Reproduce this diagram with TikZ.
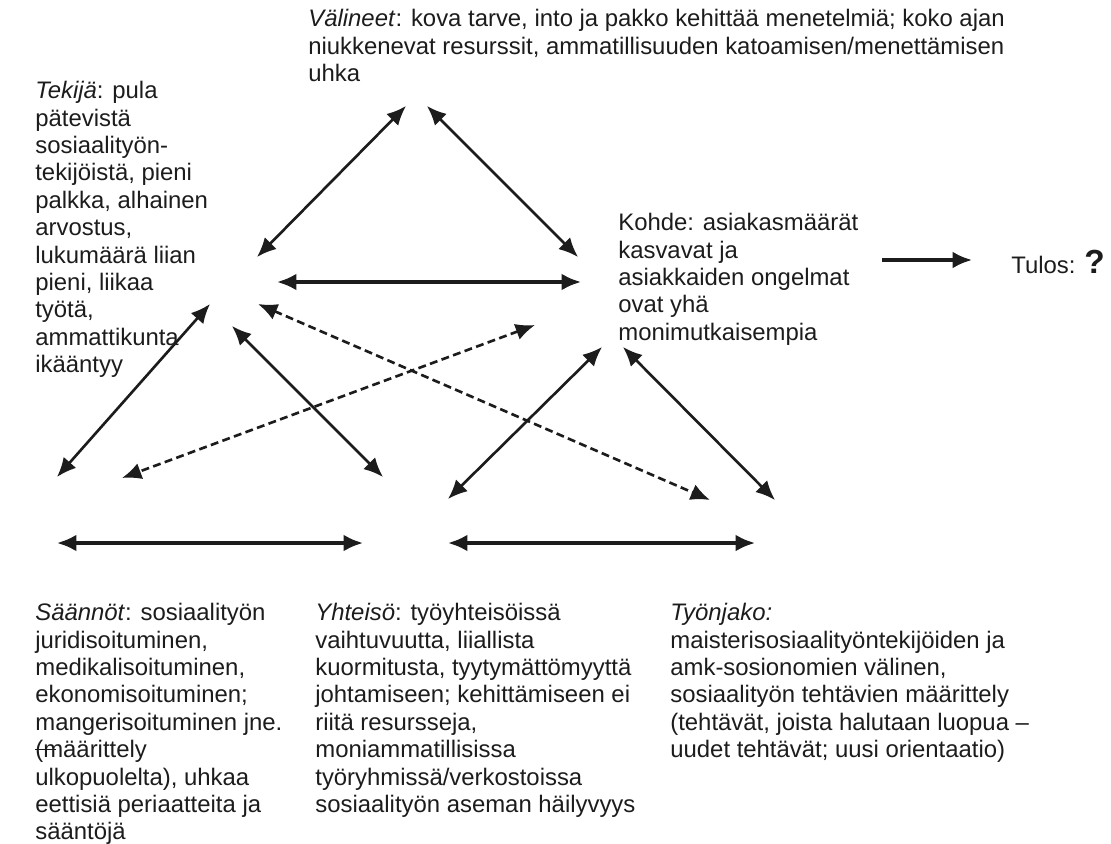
\documentclass[tikz,border=0pt]{standalone}
\usepackage{fontspec}
\setmainfont{Liberation Sans}
\usetikzlibrary{arrows.meta,positioning}
\definecolor{toimmuste}{HTML}{1C1C1C}

\tikzset{
  teksti/.style={anchor=north west,inner sep=0pt,align=left,text=toimmuste,
                 font=\fontsize{13.6}{15.6}\selectfont},
  nuoli/.style={{Latex[length=11pt,width=9.5pt]}-{Latex[length=11pt,width=9.5pt]},
                line width=1.5pt,toimmuste},
  vaaka/.style={nuoli,line width=1.8pt},
  katko/.style={nuoli,dash pattern=on 4.5pt off 2.5pt},
  yksisuunta/.style={-{Latex[length=11pt,width=9.5pt]},line width=1.8pt,toimmuste},
}

\begin{document}
\begin{tikzpicture}[x=0.02cm,y=-0.02cm]
  \useasboundingbox (0,0) rectangle (1111,844);

  % Tekstit
  \node[teksti] (valineet) at (308,9)
    {\textit{Välineet}: kova tarve, into ja pakko kehittää menetelmiä; koko ajan\\
     niukkenevat resurssit, ammatillisuuden katoamisen/menettämisen\\
     uhka};
  \node[teksti] (tekija) at (35,81)
    {\textit{Tekijä}: pula\\ pätevistä\\ sosiaalityön-\\ tekijöistä, pieni\\
     palkka, alhainen\\ arvostus,\\ lukumäärä liian\\ pieni, liikaa\\ työtä,\\
     ammattikunta\\ ikääntyy};
  \node[teksti] (kohde) at (618,213)
    {Kohde: asiakasmäärät\\ kasvavat ja\\ asiakkaiden ongelmat\\ ovat yhä\\
     monimutkaisempia};
  \node[teksti,anchor=west] (tulos) at (1011,262)
    {Tulos: {\fontsize{19}{19}\selectfont\bfseries ?}};
  \node[teksti] (saannot) at (35,603)
    {\textit{Säännöt}: sosiaalityön\\ juridisoituminen,\\ medikalisoituminen,\\
     ekonomisoituminen;\\ mangerisoituminen jne.\\
     \rlap{\rule[0.32em]{0.85em}{0.5pt}}(määrittely\\
     ulkopuolelta), uhkaa\\ eettisiä periaatteita ja\\ sääntöjä};
  \node[teksti] (yhteiso) at (315,603)
    {\textit{Yhteisö}: työyhteisöissä\\ vaihtuvuutta, liiallista\\
     kuormitusta, tyytymättömyyttä\\ johtamiseen; kehittämiseen ei\\
     riitä resursseja,\\ moniammatillisissa\\ työryhmissä/verkostoissa\\
     sosiaalityön aseman häilyvyys};
  \node[teksti] (tyonjako) at (670,603)
    {\textit{Työnjako:}\\ maisterisosiaalityöntekijöiden ja\\
     amk-sosionomien välinen,\\ sosiaalityön tehtävien määrittely\\
     (tehtävät, joista halutaan luopua --\\ uudet tehtävät; uusi orientaatio)};

  % Nuolten päät
  \coordinate (va) at (406,106);
  \coordinate (vb) at (427,106);
  \coordinate (ta) at (257,257);
  \coordinate (tb) at (277,282);
  \coordinate (tc) at (258,304);
  \coordinate (td) at (210,304);
  \coordinate (te) at (232,326);
  \coordinate (ka) at (578,257);
  \coordinate (kb) at (581,282);
  \coordinate (kc) at (535,325);
  \coordinate (kd) at (602,347);
  \coordinate (ke) at (623,347);
  \coordinate (kf) at (882,260);
  \coordinate (tu) at (972,260);
  \coordinate (sa) at (57,477);
  \coordinate (sb) at (122,478);
  \coordinate (sc) at (57,543);
  \coordinate (ya) at (383,477);
  \coordinate (yb) at (448,499);
  \coordinate (yc) at (363,543);
  \coordinate (yd) at (448,543);
  \coordinate (ja) at (710,500);
  \coordinate (jb) at (775,500);
  \coordinate (jc) at (755,543);

  % Yhteydet
  \draw[nuoli] (ta) -- (va);
  \draw[nuoli] (vb) -- (ka);
  \draw[vaaka] (tb) -- (kb);
  \draw[katko] (tc) -- (ja);
  \draw[katko] (kc) -- (sb);
  \draw[nuoli] (td) -- (sa);
  \draw[nuoli] (te) -- (ya);
  \draw[nuoli] (kd) -- (yb);
  \draw[nuoli] (ke) -- (jb);
  \draw[vaaka] (sc) -- (yc);
  \draw[vaaka] (yd) -- (jc);
  \draw[yksisuunta] (kf) -- (tu);
\end{tikzpicture}
\end{document}
